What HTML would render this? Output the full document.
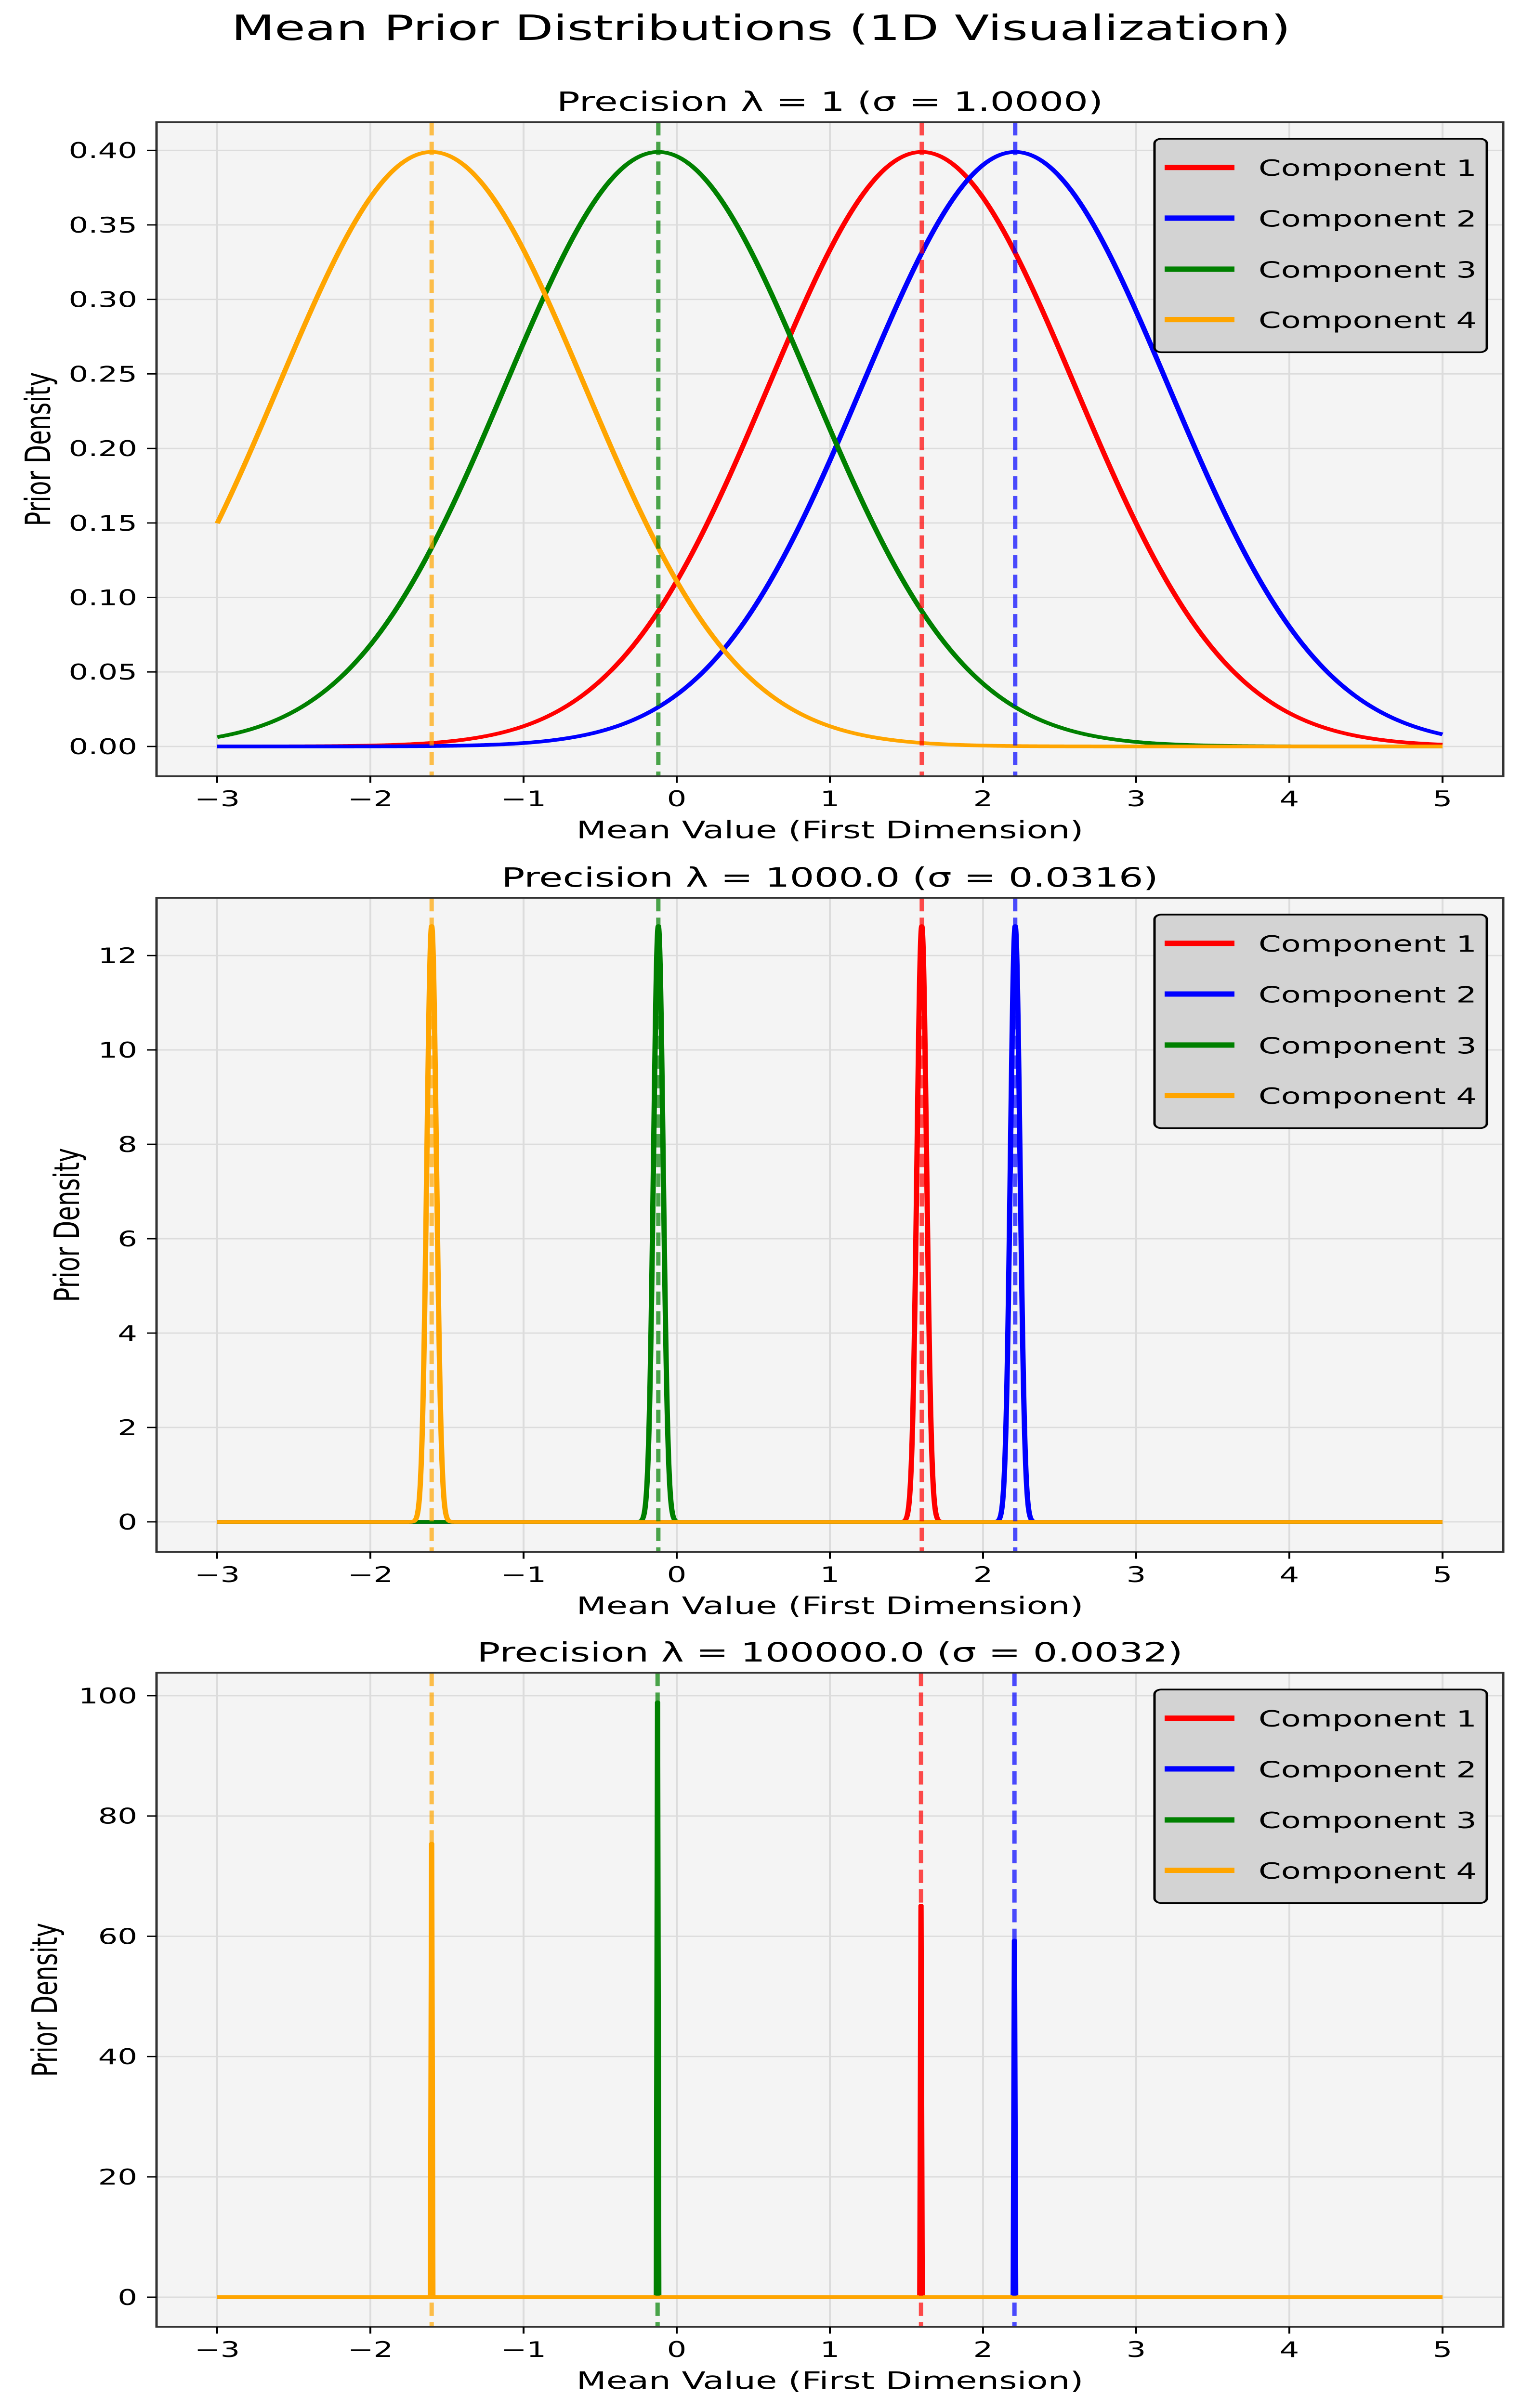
<!DOCTYPE html>
<html><head><meta charset="utf-8"><style>
html,body{margin:0;padding:0;background:#fff;width:100%;height:100%;overflow:hidden;}
svg{display:block;position:absolute;left:0;top:0;width:100vw;height:100vh;font-family:"DejaVu Sans","Liberation Sans",sans-serif;}
</style></head><body>
<svg id="fig" viewBox="0 0 3160 7219" preserveAspectRatio="none" xmlns="http://www.w3.org/2000/svg">
<rect width="3160" height="7219" fill="#fff"/>
<text x="1580" y="120" font-size="104" text-anchor="middle" fill="#000">Mean Prior Distributions (1D Visualization)</text>
</svg>
<script>
// ---- data ----
const componentNames = ["Component 1","Component 2","Component 3","Component 4"];
const componentColors = ["#ff0000","#0000ff","#008000","#ffa500"];
const componentMeans = [1.6, 2.21, -0.12, -1.6];
const componentMeans3 = [1.595, 2.205, -0.125, -1.6];
const panelTitles = ["Precision λ = 1 (σ = 1.0000)","Precision λ = 1000.0 (σ = 0.0316)","Precision λ = 100000.0 (σ = 0.0032)"];
const panelSigmas = [1.0, 0.0316];
const panel3PeakHeights = [65.1, 59.3, 98.9, 75.4];
const xTickValues = [-3,-2,-1,0,1,2,3,4,5];
const yTicksP1 = [0,0.05,0.10,0.15,0.20,0.25,0.30,0.35,0.40];
const yTicksP2 = [0,2,4,6,8,10,12];
const yTicksP3 = [0,20,40,60,80,100];
const yLimits = [[-0.01995,0.419],[-0.64,13.22],[-4.95,103.8]];
const xDomain = [-3,5];

// ---- layout ----
const NS="http://www.w3.org/2000/svg";
const svg=document.getElementById('fig');
const L=325,R=3121,H=1961;
const tops=[366,2692,5015];
const yLabelX=[78,138,92];
function sx(v){return 451+(v-(-3))*318;}
function mk(tag,attrs,parent){const e=document.createElementNS(NS,tag);for(const k in attrs)e.setAttribute(k,attrs[k]);(parent||svg).appendChild(e);return e;}
function gauss(x,m,s){return Math.exp(-0.5*((x-m)/s)**2)/(s*Math.sqrt(2*Math.PI));}

const yTickSets=[yTicksP1,yTicksP2,yTicksP3];
const yFmt=[v=>v.toFixed(2),v=>String(v),v=>String(v)];

for(let p=0;p<3;p++){
  const T=tops[p],B=T+H;
  const [y0,y1]=yLimits[p];
  const sy=v=>B-(v-y0)/(y1-y0)*H;
  const g=mk('g',{});
  
  
  const bg=mk('rect',{x:L,y:T,width:R-L,height:H,fill:'#f4f4f4'},g);
  
  
  xTickValues.forEach(v=>{
    const ln=mk('line',{x1:sx(v),x2:sx(v),y1:T,y2:B,stroke:'#dcdcdc','stroke-width':4},g);
    
    
  });
  yTickSets[p].forEach(v=>{
    const ln=mk('line',{x1:L,x2:R,y1:sy(v),y2:sy(v),stroke:'#dcdcdc','stroke-width':4},g);
    
    
  });
  const clipId='clip'+p;
  const cp=mk('clipPath',{id:clipId},g);mk('rect',{x:L,y:T,width:R-L,height:H},cp);
  const cg=mk('g',{'clip-path':'url(#'+clipId+')'},g);
  const means=p===2?componentMeans3:componentMeans;
  for(let c=0;c<4;c++){
    let pts=[];
    if(p<2){
      const N=p===0?1000:8000;
      for(let i=0;i<N;i++){const x=xDomain[0]+(xDomain[1]-xDomain[0])*i/(N-1);pts.push(sx(x).toFixed(2)+','+sy(gauss(x,means[c],panelSigmas[p])).toFixed(2));}
    } else {
      const m=means[c],d=0.008;
      pts=[[xDomain[0],0],[m-d,0],[m,panel3PeakHeights[c]],[m+d,0],[xDomain[1],0]].map(a=>sx(a[0]).toFixed(2)+','+sy(a[1]).toFixed(2));
    }
    const pl=mk('polyline',{points:pts.join(' '),fill:'none',stroke:componentColors[c],'stroke-width':11,'stroke-linejoin':'round'},cg);
    
    
  }
  for(let c=0;c<4;c++){
    const dl=mk('line',{x1:sx(means[c]),x2:sx(means[c]),y1:T,y2:B,stroke:componentColors[c],'stroke-width':9,'stroke-dasharray':'40 19','stroke-opacity':0.7},cg);
    
    
  }
  const fr=mk('rect',{x:L,y:T,width:R-L,height:H,fill:'none',stroke:'#333','stroke-width':5},g);
  
  
  xTickValues.forEach(v=>{
    const tk=mk('line',{x1:sx(v),x2:sx(v),y1:B,y2:B+20,stroke:'#000','stroke-width':4},g);
    
    
    const t=mk('text',{x:sx(v),y:B+90,'font-size':64,'text-anchor':'middle',fill:'#000'},g);
    t.textContent=v<0?'\u2212'+Math.abs(v):String(v);
    
    
  });
  yTickSets[p].forEach(v=>{
    const tk=mk('line',{x1:L-20,x2:L,y1:sy(v),y2:sy(v),stroke:'#000','stroke-width':4},g);
    
    
    const t=mk('text',{x:L-40,y:sy(v)+23,'font-size':64,'text-anchor':'end',fill:'#000'},g);
    t.textContent=yFmt[p](v);
    
    
  });
  const xl=mk('text',{x:(L+R)/2,y:B+186,'font-size':72,'text-anchor':'middle',fill:'#000'},g);
  xl.textContent='Mean Value (First Dimension)';
  
  
  const yl=mk('text',{x:0,y:0,'font-size':72,'text-anchor':'middle',fill:'#000',transform:'translate('+(yLabelX[p]+26)+','+(T+H/2)+') rotate(-90)'},g);
  yl.textContent='Prior Density';
  
  
  const tt=mk('text',{x:(L+R)/2,y:T-34,'font-size':80,'text-anchor':'middle',fill:'#000'},g);
  tt.textContent=panelTitles[p];
  
  
  const lg=mk('g',{},g);
  
  
  mk('rect',{x:2397,y:T+50,width:690,height:640,rx:14,fill:'#d3d3d3',stroke:'#000','stroke-width':5},lg);
  const rowY=[136,288,441,592];
  for(let c=0;c<4;c++){
    const ln=mk('line',{x1:2418,x2:2563,y1:T+rowY[c],y2:T+rowY[c],stroke:componentColors[c],'stroke-width':16},lg);
    
    
    const t=mk('text',{x:2613,y:T+rowY[c]+25,'font-size':67,fill:'#000'},lg);
    t.textContent=componentNames[c];
    
    
  }
}
</script>
</body></html>
